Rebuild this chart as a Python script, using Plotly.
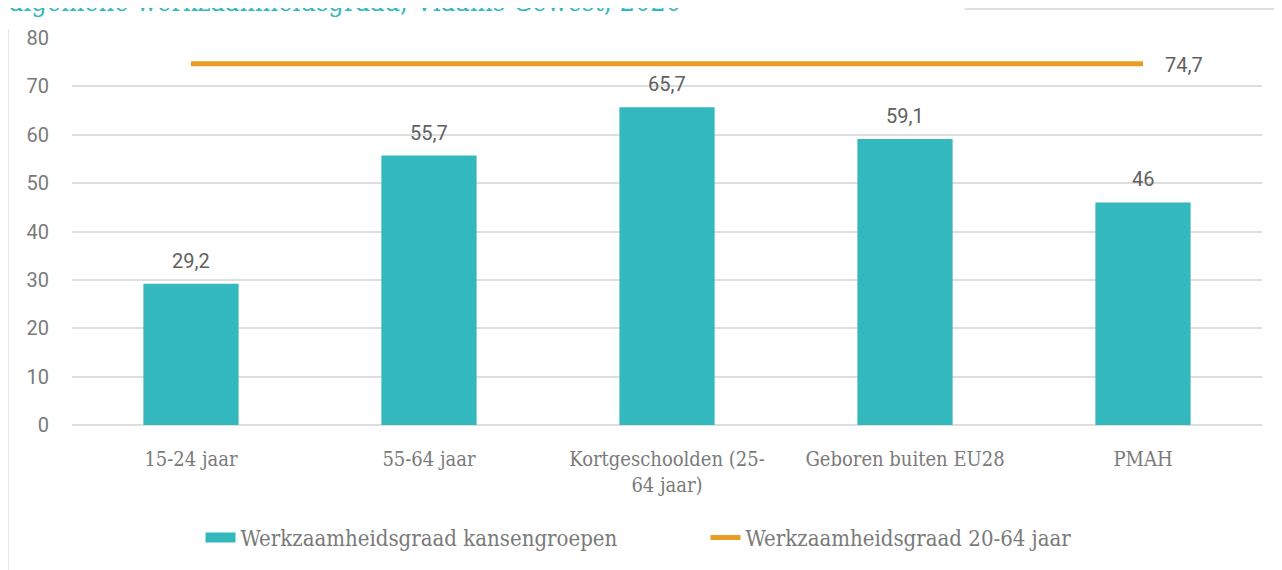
"""Werkzaamheidsgraad kansengroepen vs. algemene werkzaamheidsgraad, Vlaams Gewest 2020."""

import plotly.graph_objects as go

# Data
categories = ["15-24 jaar", "55-64 jaar", "Kortgeschoolden (25-<br>64 jaar)",
              "Geboren buiten EU28", "PMAH"]
kansengroepen = [29.2, 55.7, 65.7, 59.1, 46]
algemeen_value = 74.7
algemeen = [algemeen_value] * len(categories)
y_ticks = [0, 10, 20, 30, 40, 50, 60, 70, 80]

TEAL = "#33B8BD"
ORANGE = "#E99D22"
GRAY_TEXT = "#7a7a7a"
GRID = "#dedede"
SERIF = "DejaVu Serif Condensed, DejaVu Serif"
SANS = "Roboto"


def fmt(v):
    """Belgian number format: decimal comma, no trailing ,0."""
    if float(v).is_integer():
        return str(int(v))
    return f"{v}".replace(".", ",")


fig = go.Figure()

fig.add_trace(go.Bar(
    x=categories,
    y=kansengroepen,
    name="Werkzaamheidsgraad kansengroepen",
    marker=dict(color=TEAL, line=dict(width=0)),
    width=0.4,
    hoverinfo="x+y",
    showlegend=False,
))

# legend-only entry so the swatch is a wide block like the original
fig.add_trace(go.Scatter(
    x=[None], y=[None],
    name="Werkzaamheidsgraad kansengroepen",
    mode="lines",
    line=dict(color=TEAL, width=12),
))

fig.add_trace(go.Scatter(
    x=categories,
    y=algemeen,
    name="Werkzaamheidsgraad 20-64 jaar",
    mode="lines",
    line=dict(color=ORANGE, width=5),
    hoverinfo="y",
))

# Data labels above the bars
for cat, val in zip(categories, kansengroepen):
    fig.add_annotation(
        x=cat, y=val, text=fmt(val),
        showarrow=False, yanchor="bottom", yshift=9,
        font=dict(family=SANS, size=20, color="#606060"),
    )

# Label at the end of the line
fig.add_annotation(
    x=categories[-1], y=algemeen[-1], text=fmt(algemeen[-1]),
    showarrow=False, xanchor="left", xshift=20, yshift=-1,
    font=dict(family=SANS, size=20, color="#606060"),
)

# Title, partially cut off at the top of the image
fig.add_annotation(
    xref="paper", yref="paper", x=-0.055, y=1.05,
    xanchor="left", yanchor="bottom",
    text="algemene werkzaamheidsgraad, Vlaams Gewest, 2020",
    showarrow=False,
    font=dict(family=SERIF, size=27, color=TEAL),
)

# Frame lines from the surrounding report layout
fig.add_shape(type="line", xref="paper", yref="paper",
              x0=-0.054, x1=-0.054, y0=1.024, y1=-0.4,
              line=dict(color=GRID, width=2))
fig.add_shape(type="line", xref="paper", yref="paper",
              x0=0.75, x1=1.02, y0=1.075, y1=1.075,
              line=dict(color=GRID, width=2))

fig.update_layout(
    width=1274,
    height=562,
    margin=dict(l=64, r=20, t=30, b=144),
    paper_bgcolor="white",
    plot_bgcolor="white",
    separators=",.",
    bargap=0.6,
    showlegend=True,
    legend=dict(
        orientation="h",
        x=0.108, xanchor="left",
        y=-0.288, yanchor="middle",
        font=dict(family=SERIF, size=22, color=GRAY_TEXT),
        traceorder="normal",
        itemwidth=30,
        entrywidth=460,
    ),
    xaxis=dict(
        showgrid=False,
        zeroline=False,
        showline=False,
        ticks="",
        ticklabelstandoff=20,
        tickfont=dict(family=SERIF, size=20, color=GRAY_TEXT),
        fixedrange=True,
    ),
    yaxis=dict(
        range=[0, 80],
        tickvals=y_ticks,
        showgrid=True,
        gridcolor=GRID,
        gridwidth=2,
        zeroline=True,
        zerolinecolor=GRID,
        zerolinewidth=2,
        showline=False,
        ticks="",
        ticklabelstandoff=22,
        tickfont=dict(family=SANS, size=20, color=GRAY_TEXT),
        fixedrange=True,
    ),
)

fig.write_html("out.html")
